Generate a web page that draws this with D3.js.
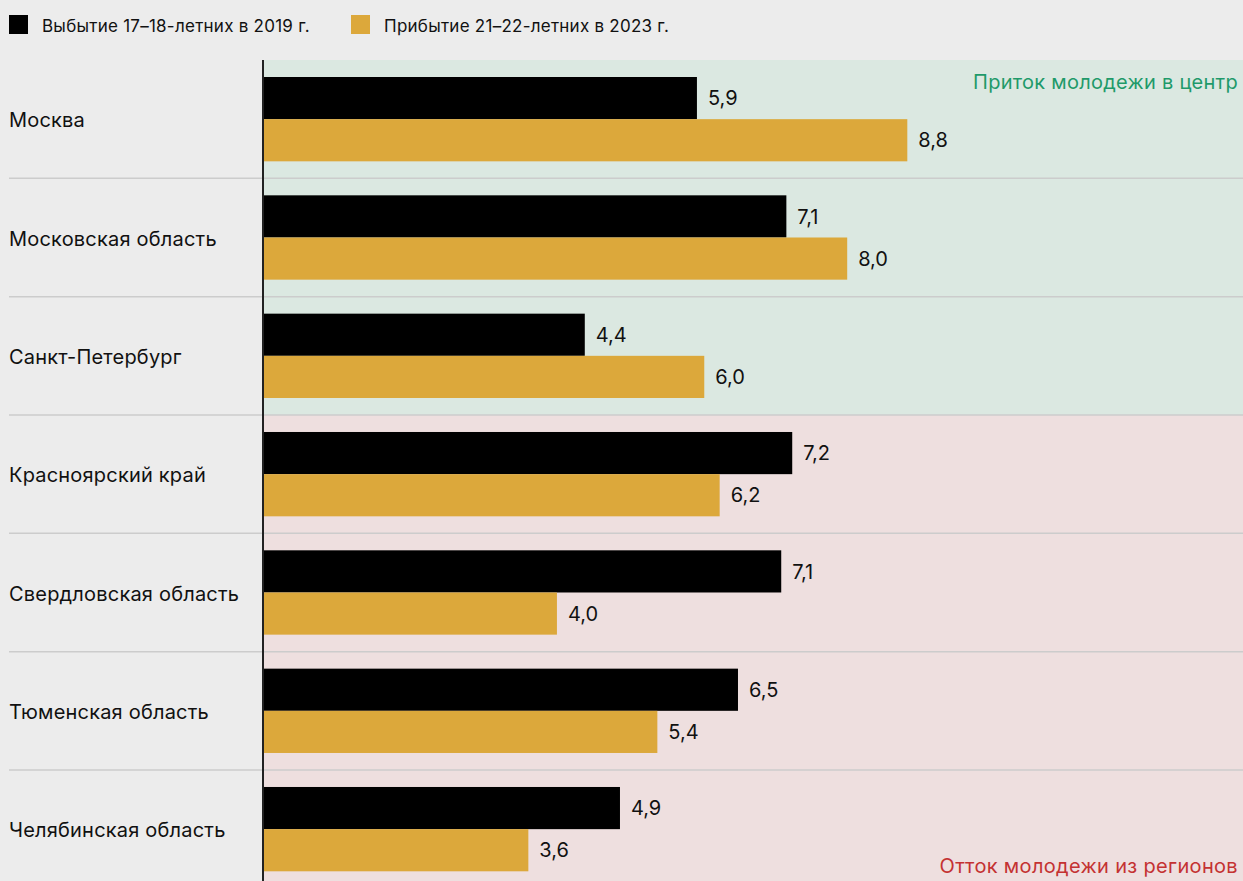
<!DOCTYPE html>
<html><head><meta charset="utf-8">
<script src="https://cdn.jsdelivr.net/npm/d3@7"></script>
<style>
html,body{margin:0;padding:0;background:#ececec;}
svg{display:block;font-family:Inter,"Noto Sans",sans-serif;}
</style></head>
<body>
<svg id="chart" width="1243" height="881"></svg>
<script>
const categories = ["Москва","Московская область","Санкт-Петербург","Красноярский край","Свердловская область","Тюменская область","Челябинская область"];
const out2019 = [5.92,7.14,4.39,7.22,7.07,6.48,4.87];
const in2023 = [8.79,7.97,6.02,6.23,4.01,5.38,3.62];
const seriesNames = ["Выбытие 17–18-летних в 2019 г.","Прибытие 21–22-летних в 2023 г."];
const seriesColors = ["#000000","#dca83b"];
const centerCount = 3;
const centerLabel = "Приток молодежи в центр";
const regionLabel = "Отток молодежи из регионов";

const W = 1243, H = 881;
const svg = d3.select("#chart");
const x0 = 263, plotTop = 60, rowH = 118.33;
const x = d3.scaleLinear().domain([0, (W - x0) / 73.3]).range([x0, W]);
const y = d3.scaleBand().domain(categories).range([plotTop, plotTop + rowH * categories.length]);
const inner = d3.scaleBand().domain([0,1]).range([17, rowH - 17]);
const fmt = v => d3.format(".1f")(v).replace(".", ",");

// backgrounds
svg.append("rect").attr("x", x0).attr("y", plotTop).attr("width", W - x0)
  .attr("height", y(categories[centerCount]) - plotTop).attr("fill", "#dbe8e1");
svg.append("rect").attr("x", x0).attr("y", y(categories[centerCount])).attr("width", W - x0)
  .attr("height", H - y(categories[centerCount])).attr("fill", "#eedfdf");

// separators
svg.selectAll("line.sep").data(categories.slice(1)).join("line")
  .attr("class", "sep")
  .attr("x1", 9).attr("x2", W)
  .attr("y1", d => y(d)).attr("y2", d => y(d))
  .attr("stroke", "#cccccc").attr("stroke-width", 1.5);

// bars
const series = [out2019, in2023];
series.forEach((vals, si) => {
  const g = svg.append("g");
  g.selectAll("rect").data(vals).join("rect")
    .attr("x", x(0))
    .attr("y", (d, i) => y(categories[i]) + inner(si))
    .attr("width", d => x(d) - x(0))
    .attr("height", inner.bandwidth())
    .attr("fill", seriesColors[si]);
  g.selectAll("text").data(vals).join("text")
    .attr("x", d => x(d) + 11)
    .attr("y", (d, i) => y(categories[i]) + inner(si) + inner.bandwidth() / 2)
    .attr("dy", "0.36em")
    .attr("font-size", 20).attr("fill", "#111")
    .text(fmt);
});

// category labels
svg.selectAll("text.cat").data(categories).join("text")
  .attr("class", "cat")
  .attr("x", 9).attr("y", d => y(d) + rowH / 2 + 1).attr("dy", "0.36em")
  .attr("font-size", 20).attr("letter-spacing", 0.2).attr("fill", "#111")
  .text(d => d);

// axis line
svg.append("line").attr("x1", x0).attr("x2", x0).attr("y1", plotTop).attr("y2", H)
  .attr("stroke", "#222").attr("stroke-width", 2);

// region labels
svg.append("text").attr("x", 1238).attr("y", 89).attr("text-anchor", "end")
  .attr("font-size", 20).attr("letter-spacing", 0.26).attr("fill", "#1f9a6a").text(centerLabel);
svg.append("text").attr("x", 1238).attr("y", 873).attr("text-anchor", "end")
  .attr("font-size", 20).attr("letter-spacing", 0.33).attr("fill", "#c43232").text(regionLabel);

// legend
const legX = [9, 351];
seriesNames.forEach((n, i) => {
  svg.append("rect").attr("x", legX[i]).attr("y", 15).attr("width", 19).attr("height", 19)
    .attr("fill", seriesColors[i]);
  svg.append("text").attr("x", legX[i] + 33).attr("y", 32)
    .attr("font-size", 17).attr("letter-spacing", 0.25).attr("fill", "#111").text(n);
});
</script>
</body></html>
